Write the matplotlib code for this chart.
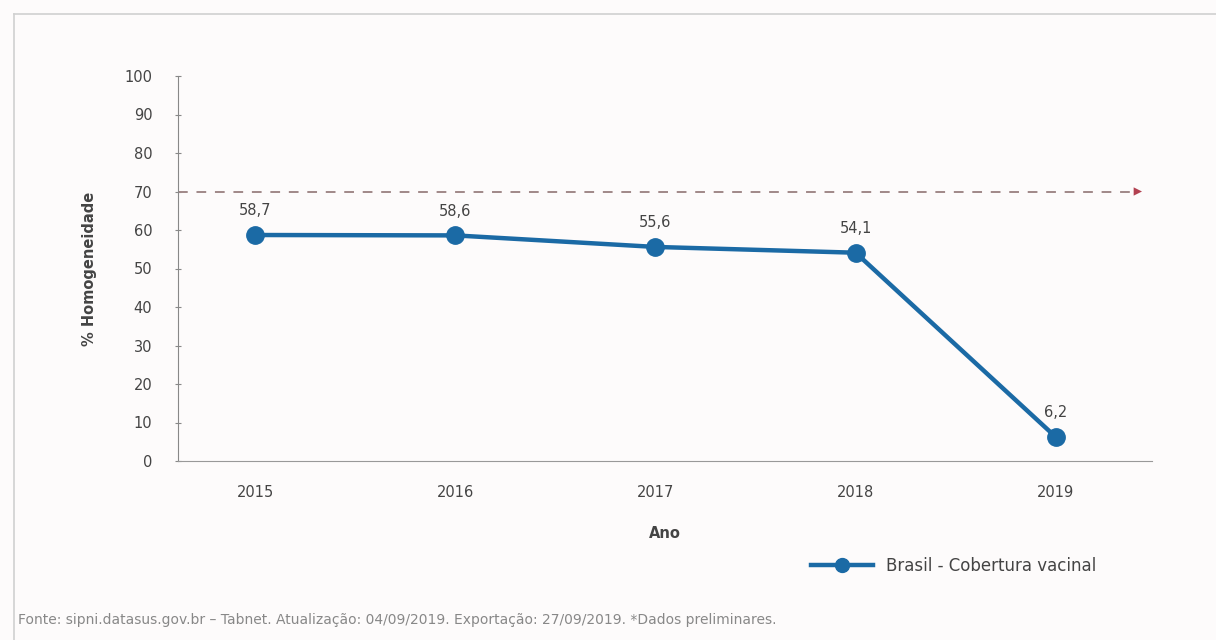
import matplotlib
matplotlib.use('Agg')
from matplotlib import pyplot as plt
from matplotlib.lines import Line2D

plt.rcParams['font.family'] = ['DejaVu Sans']

# data
anos = [2015, 2016, 2017, 2018, 2019]
homogeneidade = [58.7, 58.6, 55.6, 54.1, 6.2]
rotulos = ['58,7', '58,6', '55,6', '54,1', '6,2']
meta = 70
yticks = list(range(0, 101, 10))

textColor = '#444444'
lineColor = '#1b6aa5'
bg = '#fdfbfb'

fig = plt.figure(figsize=(12.16, 6.4), dpi=100)
fig.patch.set_facecolor(bg)
ax = fig.add_axes([178/1216, 1-461/640, (1152-178)/1216, (461-76)/640])
ax.set_facecolor(bg)

# outer frame (left and top edges)
fig.add_artist(Line2D([14/1216, 14/1216], [0, 1-14/640], color='#d0d0d0', lw=1.2))
fig.add_artist(Line2D([14/1216, 1], [1-14/640, 1-14/640], color='#d0d0d0', lw=1.2))

# target line with arrow
ax.annotate('', xy=(2019.43, meta), xytext=(2014.615, meta),
            arrowprops=dict(arrowstyle='-|>', color='#b24050', lw=0,
                            mutation_scale=15, shrinkA=0, shrinkB=0))
ax.plot([2014.615, 2019.38], [meta, meta], color='#a08888', lw=1.4,
        dashes=(5, 4.5), zorder=2)

ax.plot(anos, homogeneidade, color=lineColor, lw=3.2, marker='o',
        markersize=12.5, label='Brasil - Cobertura vacinal', zorder=3)
for x, y, s in zip(anos, homogeneidade, rotulos):
    ax.annotate(s, (x, y), xytext=(0, 12), textcoords='offset points',
                ha='center', va='bottom', fontsize=10.5, color=textColor)

ax.set_xlim(2014.615, 2019.48)
ax.set_ylim(0, 100)
ax.set_yticks(yticks)
ax.set_xticks(anos)
ax.set_xticklabels([str(a) for a in anos])
for side in ['top', 'right']:
    ax.spines[side].set_visible(False)
ax.spines['left'].set_color('#888888')
ax.spines['bottom'].set_color('#999999')
ax.tick_params(axis='y', direction='inout', length=5, color='#888888',
               labelsize=10.5, labelcolor=textColor, pad=16)
ax.tick_params(axis='x', length=0, labelsize=10.5, labelcolor=textColor, pad=17)
ax.set_ylabel('% Homogeneidade', fontsize=10.5, fontweight='bold',
              color=textColor, labelpad=20)
ax.set_xlabel('Ano', fontsize=10.5, fontweight='bold', color=textColor, labelpad=19)

leg = ax.legend(loc='center left', bbox_to_anchor=(796/1216, 1-566/640),
                bbox_transform=fig.transFigure, frameon=False, fontsize=12,
                handlelength=3.7, markerscale=0.8, labelcolor=textColor)

fig.text(18/1216, 1-620/640,
         'Fonte: sipni.datasus.gov.br – Tabnet. Atualização: 04/09/2019. '
         'Exportação: 27/09/2019. *Dados preliminares.',
         fontsize=10, color='#888888', va='center', ha='left')

fig.savefig('out.png', dpi=100, facecolor=bg)
